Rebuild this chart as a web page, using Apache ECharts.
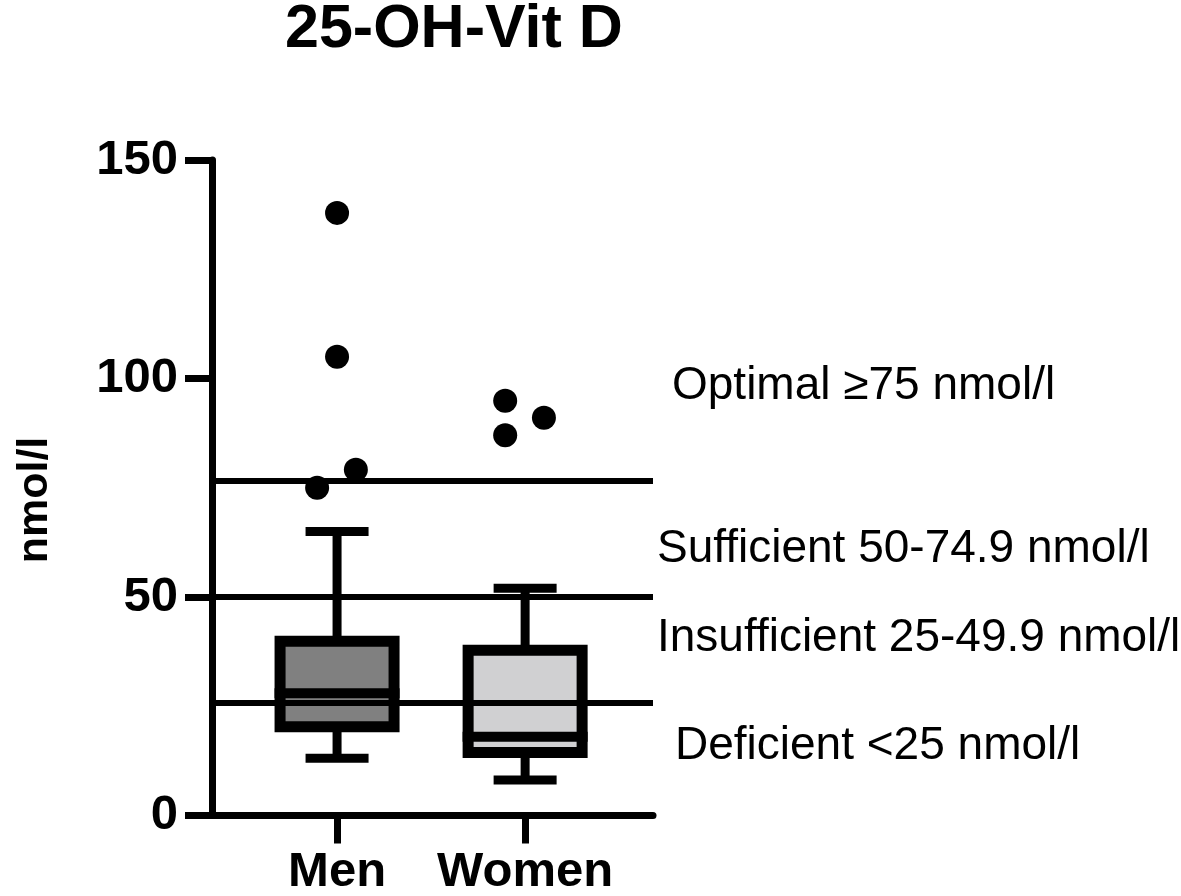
<!DOCTYPE html>
<html>
<head>
<meta charset="utf-8">
<script src="https://cdn.jsdelivr.net/npm/echarts@6/dist/echarts.min.js"></script>
<style>
html,body{margin:0;padding:0;background:#fff;}
#chart{width:1181px;height:896px;}
</style>
</head>
<body>
<div id="chart"></div>
<script>
// ---- data ----
const categories = ['Men', 'Women'];
const categoryPos = [1, 2];
const whiskerLow = [13.1, 8.1];
const quartile1 = [20.3, 14.4];
const medians = [28.0, 18.0];
const quartile3 = [39.9, 37.8];
const whiskerHigh = [65.0, 52.0];
const boxFills = ['#808080', '#d0d0d2'];
const outlierGroup = [0, 0, 0, 0, 1, 1, 1];
const outlierJitter = [0, 0, 0.10, -0.106, -0.106, -0.106, 0.10];
const outlierValues = [137.9, 105.0, 79.1, 75.0, 94.9, 87.0, 91.0];
const thresholdValues = [76.5, 50.0, 25.7];
const thresholdLabels = ['Optimal \u226575 nmol/l', 'Sufficient 50-74.9 nmol/l', 'Insufficient 25-49.9 nmol/l', 'Deficient <25 nmol/l'];
const yTicks = [0, 50, 100, 150];
const titleText = '25-OH-Vit D';
const yAxisName = 'nmol/l';

// ---- chart ----
const FONT = 'Liberation Sans, Arial, sans-serif';
const chart = echarts.init(document.getElementById('chart'), null, {renderer: 'canvas'});

const boxData = categories.map((c, i) => [categoryPos[i], whiskerLow[i], quartile1[i], medians[i], quartile3[i], whiskerHigh[i]]);
const outlierData = outlierValues.map((v, i) => [categoryPos[outlierGroup[i]] + outlierJitter[i], v]);

function renderBox(params, api) {
  const x = api.value(0);
  const lo = api.coord([x, api.value(1)]);
  const q1 = api.coord([x, api.value(2)]);
  const md = api.coord([x, api.value(3)]);
  const q3 = api.coord([x, api.value(4)]);
  const hi = api.coord([x, api.value(5)]);
  const half = 57, capHalf = 31.5, edge = 5.5;
  const blk = '#000';
  return {
    type: 'group',
    children: [
      {type: 'line', shape: {x1: hi[0], y1: hi[1], x2: q3[0], y2: q3[1]}, style: {stroke: blk, lineWidth: 9}},
      {type: 'line', shape: {x1: hi[0] - capHalf, y1: hi[1], x2: hi[0] + capHalf, y2: hi[1]}, style: {stroke: blk, lineWidth: 9}},
      {type: 'line', shape: {x1: lo[0], y1: lo[1], x2: q1[0], y2: q1[1]}, style: {stroke: blk, lineWidth: 9}},
      {type: 'line', shape: {x1: lo[0] - capHalf, y1: lo[1], x2: lo[0] + capHalf, y2: lo[1]}, style: {stroke: blk, lineWidth: 9}},
      {type: 'rect', shape: {x: q3[0] - half, y: q3[1], width: 2 * half, height: q1[1] - q3[1]}, style: {fill: boxFills[params.dataIndex], stroke: blk, lineWidth: 11}},
      {type: 'line', shape: {x1: md[0] - half - edge, y1: md[1], x2: md[0] + half + edge, y2: md[1]}, style: {stroke: blk, lineWidth: 10}}
    ]
  };
}

const annoPos = [[672, 386], [657, 549], [657, 638], [675, 746]];

const option = {
  animation: false,
  backgroundColor: '#fff',
  grid: {left: 212, right: 528, top: 160, bottom: 80.5, containLabel: false, outerBoundsMode: 'none'},
  xAxis: {
    type: 'value', min: 0.335, max: 2.68,
    splitLine: {show: false},
    axisLine: {onZero: false, lineStyle: {color: '#000', width: 7}},
    axisTick: {show: true, customValues: categoryPos, length: 28, lineStyle: {color: '#000', width: 7}},
    axisLabel: {
      customValues: categoryPos,
      formatter: v => categories[categoryPos.indexOf(Math.round(v))] || '',
      fontFamily: FONT, fontSize: 49, fontWeight: 'bold', color: '#000', margin: 32
    }
  },
  yAxis: {
    type: 'value', min: 0, max: 150, interval: 50,
    splitLine: {show: false},
    axisLine: {show: true, onZero: false, lineStyle: {color: '#000', width: 7}},
    axisTick: {show: true, length: 27, lineStyle: {color: '#000', width: 7}},
    axisLabel: {
      formatter: v => (yTicks.indexOf(v) >= 0 ? String(v) : ''),
      fontFamily: FONT, fontSize: 49, fontWeight: 'bold', color: '#000', margin: 34
    }
  },
  graphic: [
    {type: 'text', x: 285, y: 30, style: {text: titleText, font: 'bold 61px ' + FONT, fill: '#000', textAlign: 'left', textVerticalAlign: 'middle'}},
    {type: 'text', x: 35, y: 500, rotation: Math.PI / 2, style: {text: yAxisName, font: 'bold 43px ' + FONT, fill: '#000', textAlign: 'center', textVerticalAlign: 'middle'}}
  ].concat(thresholdLabels.map((t, i) => ({
    type: 'text', x: annoPos[i][0], y: annoPos[i][1],
    style: {text: t, font: '46px ' + FONT, fill: '#000', textAlign: 'left', textVerticalAlign: 'middle'}
  }))),
  series: [
    {
      type: 'custom', name: 'box', z: 2,
      renderItem: renderBox,
      encode: {x: 0, y: [1, 2, 3, 4, 5]},
      data: boxData
    },
    {
      type: 'scatter', name: 'outliers', z: 4,
      symbol: 'circle', symbolSize: 24,
      itemStyle: {color: '#000', opacity: 1},
      data: outlierData,
      markLine: {
        silent: true, symbol: 'none', z: 3,
        label: {show: false},
        lineStyle: {color: '#000', width: 6, type: 'solid', opacity: 1},
        data: thresholdValues.map(v => ({yAxis: v}))
      }
    }
  ]
};
chart.setOption(option);
</script>
</body>
</html>
